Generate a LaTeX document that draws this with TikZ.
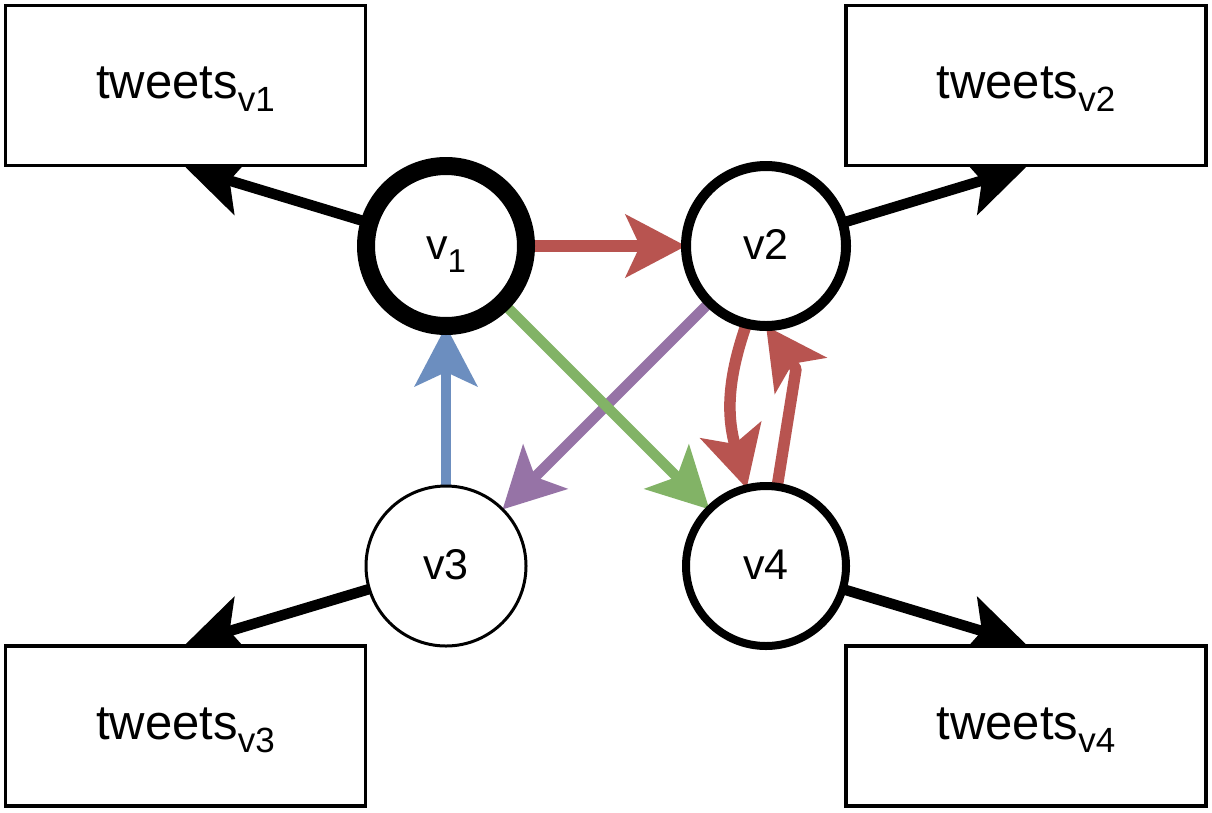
\documentclass[tikz,border=0pt]{standalone}
\usepackage{fontspec}
\setmainfont{Liberation Sans}
\usetikzlibrary{arrows.meta,backgrounds}
\definecolor{cred}{RGB}{184,84,80}
\definecolor{cgreen}{RGB}{130,179,102}
\definecolor{cpurple}{RGB}{150,115,166}
\definecolor{cblue}{RGB}{108,142,191}
\newcommand\subtw[1]{\raisebox{-13pt}{\fontsize{35pt}{35pt}\selectfont #1}}
\newcommand\subnd[1]{\raisebox{-13pt}{\fontsize{33pt}{33pt}\selectfont #1}}
\begin{document}
\begin{tikzpicture}[x=1pt,y=-1pt,
 box/.style={draw, fill=white, line width=3.5pt, minimum width=360pt, minimum height=160pt, inner sep=0pt, text height=30pt, text depth=4pt, font=\fontsize{49pt}{52pt}\selectfont},
 vert/.style={circle, draw, fill=white, minimum size=160pt, inner sep=0pt, outer sep=0pt, text height=28pt, text depth=2pt, font=\fontsize{43pt}{46pt}\selectfont},
 arr/.style={line width=10.5pt, -{Stealth[length=60pt,width=62pt,inset=14pt]}},
 redarr/.style={arr, cred, line width=11.5pt},
]
\useasboundingbox (0,0) rectangle (1212,812);

\node[box] (tw1) at (185.5,85.5) {tweets\subtw{v1}};
\node[box] (tw2) at (1026,85.5) {tweets\subtw{v2}};
\node[box] (tw3) at (185.5,726) {tweets\subtw{v3}};
\node[box] (tw4) at (1026,726) {tweets\subtw{v4}};

\node[vert, line width=18pt] (v1) at (446,246) {v\subnd{1}};
\node[vert, line width=10pt] (v2) at (766,246) {v2};
\node[vert, line width=3pt] (v3) at (446,566) {v3};
\node[vert, line width=8pt] (v4) at (766,566) {v4};

\coordinate (wp) at (796,369);

\begin{scope}[on background layer]
\fill[white] (0,0) rectangle (1212,812);
\draw[arr] (v1) -- (tw1.south);
\draw[arr] (v2) -- (tw2.south);
\draw[arr] (v3) -- (tw3.north);
\draw[arr] (v4) -- (tw4.north);
\draw[redarr] (v1) -- (v2);
\draw[arr, cpurple] (v2) -- (v3);
\draw[arr, cgreen] (v1) -- (v4);
\draw[arr, cblue] (v3) -- (v1);
\draw[redarr] (v2.-104) .. controls (725,385) and (728,420) .. (v4.104);
\draw[redarr, line join=bevel] (v4.82) -- (wp) -- (v2.-90);
\end{scope}
\end{tikzpicture}
\end{document}
